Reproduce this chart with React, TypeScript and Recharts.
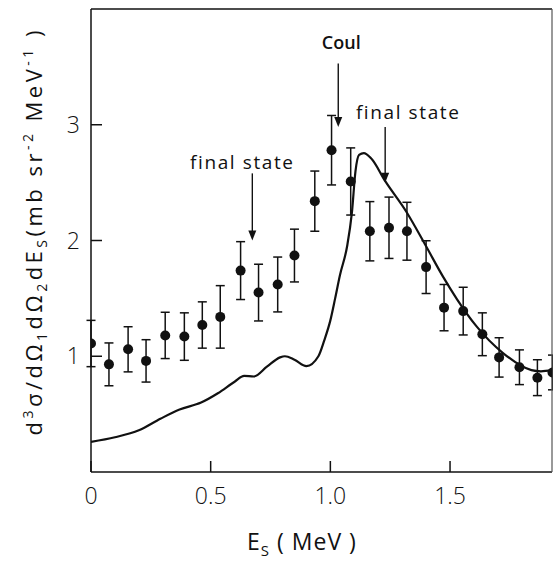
import React from "react";
import {
  ComposedChart,
  XAxis,
  YAxis,
  Line,
  Scatter,
  ErrorBar,
  ReferenceLine,
} from "recharts";

// measured points (E_S in MeV, cross section, symmetric error)
const pointEs = [
  0, 0.075, 0.155, 0.23, 0.31, 0.39, 0.465, 0.54, 0.625, 0.7, 0.78, 0.85, 0.935,
  1.005, 1.085, 1.165, 1.245, 1.32, 1.4, 1.475, 1.555, 1.635, 1.705, 1.79, 1.865,
  1.928,
];
const pointSigma = [
  1.11, 0.93, 1.06, 0.96, 1.18, 1.17, 1.27, 1.34, 1.74, 1.55, 1.62, 1.87, 2.34,
  2.78, 2.51, 2.08, 2.11, 2.08, 1.77, 1.42, 1.39, 1.19, 0.99, 0.905, 0.815, 0.86,
];
const pointErr = [
  0.2, 0.185, 0.195, 0.183, 0.2, 0.205, 0.2, 0.27, 0.25, 0.245, 0.237, 0.228,
  0.26, 0.3, 0.29, 0.256, 0.265, 0.25, 0.228, 0.2, 0.206, 0.185, 0.17, 0.15, 0.155,
  0.15,
];

// theory curve
const curveEs = [
  0, 0.1, 0.2, 0.29, 0.37, 0.46, 0.53, 0.6, 0.64, 0.68, 0.735, 0.79, 0.81, 0.85,
  0.9, 0.95, 0.975, 1.0, 1.02, 1.04, 1.07, 1.09, 1.105, 1.12, 1.14, 1.17, 1.23,
  1.32, 1.4, 1.47, 1.53, 1.61, 1.72, 1.84, 1.88, 1.926,
];
const curveSigma = [
  0.26, 0.3, 0.36, 0.46, 0.54, 0.6, 0.68, 0.78, 0.83, 0.825, 0.91, 0.99, 1.0,
  0.97, 0.915, 1.0, 1.14, 1.31, 1.5, 1.7, 1.95, 2.24, 2.6, 2.74, 2.755, 2.71,
  2.51, 2.24, 1.95, 1.69, 1.49, 1.26, 1.03, 0.88, 0.87, 0.88,
];

const xTicks = [0, 0.5, 1, 1.5];
const xTicksTop = [0.5, 1, 1.5];
const yTicks = [1, 2, 3];

const noteText = ["Coul", "final state", "final state"];
const noteEs = [1.033, 1.229, 0.674];
const noteFrom = [3.53, 2.98, 2.58];
const noteTo = [2.98, 2.5, 2.0];

const points = pointEs.map((x, i) => ({ x, y: pointSigma[i], err: pointErr[i] }));
const curve = curveEs.map((x, i) => ({ x, y: curveSigma[i] }));

const FONT = "'Open Sans', 'DejaVu Sans', sans-serif";
const INK = "#111";

const textOffsets = [
  { dx: 3, dy: -14, size: 18, weight: 600, spacing: 0 },
  { dx: 23, dy: -8, size: 19, weight: 400, spacing: 1.6 },
  { dx: -10, dy: -4, size: 19, weight: 400, spacing: 1.6 },
];

function arrowShape(i: number) {
  return (p: any) => {
    const { x1, y1, x2, y2 } = p;
    const o = textOffsets[i];
    return (
      <g>
        <line x1={x1} y1={y1} x2={x2} y2={y2 - 8} stroke={INK} strokeWidth={1.4} />
        <polygon
          points={`${x2 - 4},${y2 - 10} ${x2 + 4},${y2 - 10} ${x2},${y2}`}
          fill={INK}
        />
        <text
          x={x1 + o.dx}
          y={y1 + o.dy}
          textAnchor="middle"
          fontFamily={FONT}
          fontSize={o.size}
          fontWeight={o.weight}
          letterSpacing={o.spacing}
          fill={INK}
        >
          {noteText[i]}
        </text>
      </g>
    );
  };
}

function Dot(p: any) {
  return <circle cx={p.cx} cy={p.cy} r={5} fill={INK} />;
}

function YTitle(props: any) {
  const cx = 42;
  const cy = 233;
  const sm = 14;
  return (
    <text
      x={cx}
      y={cy}
      transform={`rotate(-90, ${cx}, ${cy})`}
      textAnchor="middle"
      fontFamily={FONT}
      fontSize={22}
      fill={INK}
      textLength={405}
      lengthAdjust="spacing"
    >
      d
      <tspan dy={-9} fontSize={sm}>3</tspan>
      <tspan dy={9}>σ/dΩ</tspan>
      <tspan dy={5} fontSize={sm}>1</tspan>
      <tspan dy={-5}>dΩ</tspan>
      <tspan dy={5} fontSize={sm}>2</tspan>
      <tspan dy={-5}>dE</tspan>
      <tspan dy={5} fontSize={sm}>S</tspan>
      <tspan dy={-5}>(mb sr</tspan>
      <tspan dy={-9} fontSize={sm}>-2</tspan>
      <tspan dy={9}> MeV</tspan>
      <tspan dy={-9} fontSize={sm}>-1</tspan>
      <tspan dy={9}> )</tspan>
    </text>
  );
}

function XTitle(props: any) {
  return (
    <text
      x={302}
      y={550}
      textAnchor="middle"
      fontFamily={FONT}
      fontSize={23}
      fill={INK}
      letterSpacing={1}
    >
      E
      <tspan dy={6} fontSize={15}>S</tspan>
      <tspan dy={-6}> ( MeV )</tspan>
    </text>
  );
}

const tickStyle = { fontFamily: FONT, fontSize: 23, fill: INK, fontWeight: 300 };

export default function App() {
  return (
    <div
      style={{
        position: "fixed",
        left: 0,
        top: 0,
        width: 553,
        height: 564,
        overflow: "hidden",
        background: "#fff",
      }}
    >
      <ComposedChart
        width={553}
        height={564}
        margin={{ top: 8, right: 0, bottom: 0, left: 0 }}
      >
        <XAxis
          xAxisId="b"
          dataKey="x"
          type="number"
          domain={[0, 1.926]}
          ticks={xTicks}
          tickFormatter={(v: number) => (v === 0 ? "0" : v.toFixed(1))}
          height={92}
          tickSize={-11}
          tickMargin={27}
          tick={tickStyle}
          stroke={INK}
          strokeWidth={1.5}
          label={<XTitle />}
          allowDataOverflow
        />
        <XAxis
          xAxisId="t"
          orientation="top"
          type="number"
          domain={[0, 1.926]}
          ticks={xTicksTop}
          height={1}
          tickSize={-11}
          tick={false}
          stroke={INK}
          strokeWidth={1.5}
          allowDataOverflow
        />
        <YAxis
          yAxisId="l"
          dataKey="y"
          type="number"
          domain={[0, 4]}
          ticks={yTicks}
          width={91}
          tickSize={-11}
          tickMargin={22}
          tick={tickStyle}
          stroke={INK}
          strokeWidth={1.5}
          label={<YTitle />}
          allowDataOverflow
        />
        <YAxis
          yAxisId="r"
          orientation="right"
          type="number"
          domain={[0, 4]}
          ticks={yTicks}
          width={1}
          tickSize={-11}
          tick={false}
          stroke="#555"
          strokeWidth={1.2}
          allowDataOverflow
        />
        <Line
          xAxisId="b"
          yAxisId="l"
          data={curve}
          dataKey="y"
          type="monotone"
          stroke={INK}
          strokeWidth={2.2}
          dot={false}
          activeDot={false}
          isAnimationActive={false}
        />
        <Scatter
          xAxisId="b"
          yAxisId="l"
          data={points}
          dataKey="y"
          shape={Dot}
          isAnimationActive={false}
        >
          <ErrorBar
            dataKey="err"
            direction="y"
            width={4.5}
            stroke={INK}
            strokeWidth={1.5}
            isAnimationActive={false}
          />
        </Scatter>
        {noteText.map((t, i) => (
          <ReferenceLine
            key={i}
            xAxisId="b"
            yAxisId="l"
            segment={[
              { x: noteEs[i], y: noteFrom[i] },
              { x: noteEs[i], y: noteTo[i] },
            ]}
            shape={arrowShape(i)}
            ifOverflow="visible"
          />
        ))}
      </ComposedChart>
    </div>
  );
}
